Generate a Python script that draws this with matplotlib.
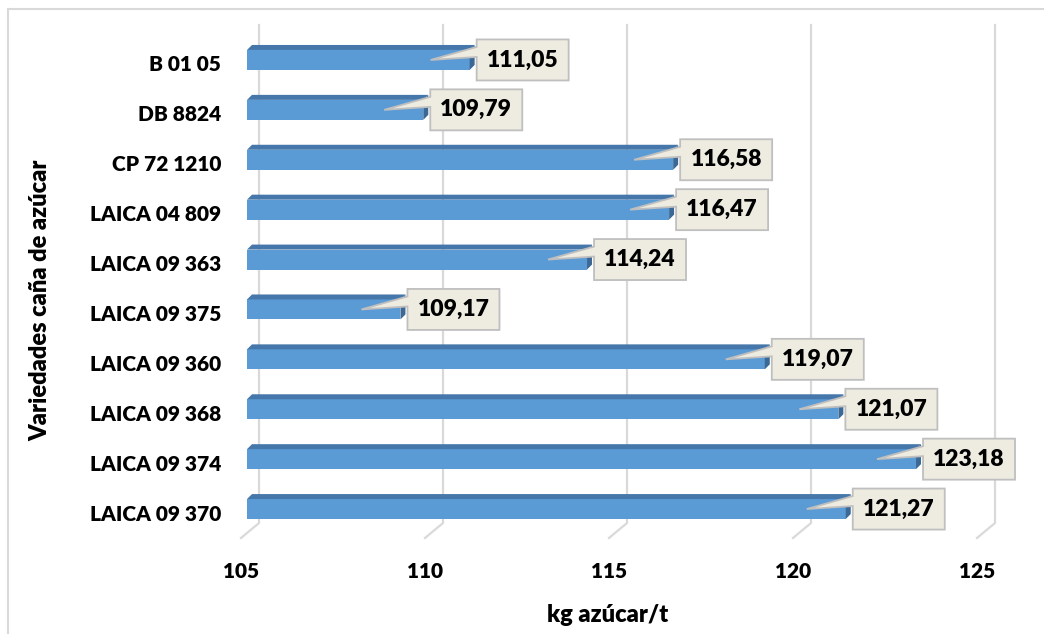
import matplotlib.pyplot as plt
from matplotlib.patches import Polygon
from matplotlib.lines import Line2D
from matplotlib.transforms import IdentityTransform

# kg de azúcar por tonelada de caña, por variedad
variedades = ['B 01 05', 'DB 8824', 'CP 72 1210', 'LAICA 04 809', 'LAICA 09 363',
              'LAICA 09 375', 'LAICA 09 360', 'LAICA 09 368', 'LAICA 09 374',
              'LAICA 09 370']
kg_azucar = [111.05, 109.79, 116.58, 116.47, 114.24,
             109.17, 119.07, 121.07, 123.18, 121.27]
ticks = [105, 110, 115, 120, 125]

W, H = 1044, 634
plt.rcParams['font.family'] = ['Lato', 'DejaVu Sans']
peso = 'heavy'

frente = '#5B9BD5'
techo = '#4677AA'
lado = '#3B6894'
rejilla = '#D9D9D9'
caja = '#EEECE1'
borde = '#BFBFBF'

fig = plt.figure(figsize=(W / 100, H / 100), dpi=100)
ax = fig.add_axes([247 / W, 1 - 534 / H, 736 / W, 499 / H])
ax.set_xlim(ticks[0], ticks[-1])
ax.set_ylim(len(variedades) - 0.5, -0.5)
ax.axis('off')

pix = IdentityTransform()


def disp(x, y):
    return ax.transData.transform((x, y))


# marco del gráfico (solo arriba e izquierda)
fig.add_artist(Line2D([8, W], [H - 9, H - 9], transform=pix, color=rejilla, lw=1.5))
fig.add_artist(Line2D([8, 8], [0, H - 9], transform=pix, color=rejilla, lw=1.5))

# líneas de división en perspectiva
top_y = H - 25
back_y = H - 523
front_y = H - 538
for t in ticks:
    x0, _ = disp(t, 0)
    ax.add_line(Line2D([x0 + 12, x0 + 12, x0 - 6], [top_y, back_y, front_y],
                       transform=pix, color=rejilla, lw=1.6, zorder=1,
                       clip_on=False))
    ax.annotate(str(t), xy=(t, len(variedades) - 0.5), xytext=(-6, -37),
                textcoords='offset pixels', ha='center', va='center',
                fontsize=15, fontweight=peso)

# barras con efecto 3D
alto = 0.4
pos = list(range(len(variedades)))
ax.barh(pos, [v - ticks[0] for v in kg_azucar], left=ticks[0], height=alto,
        color=frente, zorder=2)
dx, dy = 5, 5
for i, v in enumerate(kg_azucar):
    xl, yt = disp(ticks[0], i - alto / 2)
    xr, yb = disp(v, i + alto / 2)
    ax.add_patch(Polygon([(xl, yt), (xr, yt), (xr + dx, yt + dy), (xl + dx, yt + dy)],
                         closed=True, transform=pix, fc=techo, ec='none',
                         zorder=2, clip_on=False))
    ax.add_patch(Polygon([(xr, yt), (xr + dx, yt + dy), (xr + dx, yb + dy), (xr, yb)],
                         closed=True, transform=pix, fc=lado, ec='none',
                         zorder=2, clip_on=False))

    # nombre de la variedad
    ax.annotate(variedades[i], xy=(ticks[0], i), xytext=(-26, -5),
                textcoords='offset pixels', ha='right', va='center',
                fontsize=15, fontweight=peso)

    # etiqueta de valor tipo llamada
    xe, yc = disp(v, i)
    bx0, bx1 = xe + 7, xe + 99
    by0, by1 = yc - 20.5, yc + 20.5
    verts = [(bx0, by1), (bx1, by1), (bx1, by0), (bx0, by0),
             (bx0, yc + 3), (xe - 39, yc), (bx0, yc + 13)]
    ax.add_patch(Polygon(verts, closed=True, transform=pix, fc=caja, ec=borde,
                         lw=1.3, zorder=5, clip_on=False))
    ax.text((bx0 + bx1) / 2, yc, f'{v:.2f}'.replace('.', ','), transform=pix,
            ha='center', va='center', fontsize=16.5, fontweight=peso, zorder=6)

fig.text(608 / W, 1 - 615 / H, 'kg azúcar/t', ha='center', va='center',
         fontsize=17, fontweight=peso)
fig.text(40 / W, 1 - 300 / H, 'Variedades caña de azúcar', ha='center',
         va='center', rotation=90, fontsize=17, fontweight=peso)

fig.savefig('out.png', dpi=100)
